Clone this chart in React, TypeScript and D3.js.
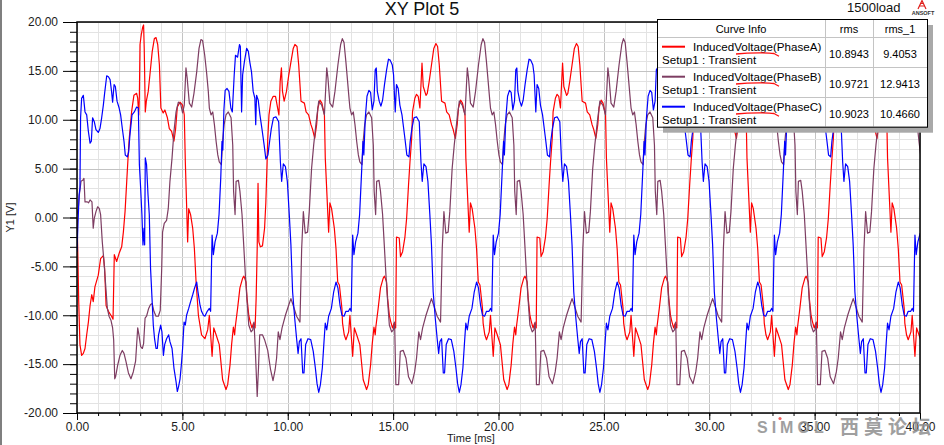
import React, { useEffect, useRef } from "react";
import * as d3 from "d3";

// Induced voltage traces as [time ms, volts] vertices
const phaseA: [number, number][] = [
  [0,0],[0.04,-3.8],[0.08,-8.5],[0.14,-13],[0.22,-14.1],[0.3,-13.9],[0.38,-13.4],[0.46,-12],[0.54,-10.7],[0.62,-9],[0.7,-7.9],[0.77,-8.6],[0.85,-7.1],[1.01,-5.9],[1.12,-4.2],[1.25,-3.9],[1.31,-5.2],[1.38,-9],[1.49,-9.6],[1.64,-10.1],[1.71,-10.4],[1.77,-3.8],[1.88,-4.5],[2.01,-3.6],[2.12,-3],[2.2,-1.5],[2.28,0.6],[2.36,3.7],[2.43,6.4],[2.48,8.1],[2.59,10.8],[2.7,12.5],[2.83,12.7],[2.88,12.2],[2.93,10.5],[2.96,12.5],[2.99,17.7],[3.05,18.7],[3.12,19.5],[3.16,19.7],[3.19,17.3],[3.24,10.8],[3.29,11.9],[3.38,12.9],[3.46,14.6],[3.57,17],[3.67,18.3],[3.75,18.4],[3.83,17.7],[3.91,15.6],[3.98,11.2],[4.09,10.7],[4.17,11],[4.29,10.2],[4.38,9.1],[4.49,8.8],[4.6,7.8],[4.68,9.1],[4.76,11.3],[4.89,11.8],[5.01,11.5],[5.09,10.5],[5.14,5.7],[5.2,1.3],[5.25,-2.5],[5.3,0.9],[5.39,0.3],[5.49,-1.1],[5.57,-3.2],[5.65,-6.6],[5.76,-10],[5.91,-12],[6.07,-12.4],[6.2,-11.5],
  [6.28,-10],[6.41,-14.2],[6.49,-11.3],[6.6,-12],[6.75,-13],[6.91,-16.6],[7.07,-17.6],[7.15,-17.1],[7.26,-15.1],[7.34,-12.9],[7.42,-11.2],[7.48,-12],[7.51,-11.2],[7.62,-9.3],[7.73,-7.2],[7.86,-6.2],[7.92,-6],[8.02,-6.6],[8.07,-8.3],[8.15,-10],[8.21,-10.6],[8.3,-11.3],[8.38,-10.8],[8.45,-11.3],[8.5,-8.3],[8.55,-3.2],[8.59,3.5],[8.63,-2.5],[8.7,-3],[8.8,-2.9],[8.9,-1.1],[8.96,1.5],[9.01,5],[9.05,8],[9.11,10.5],[9.2,11.9],[9.31,12.4],[9.42,12.4],[9.52,11.2],[9.58,10.5],[9.64,13.9],[9.7,15.3],[9.75,12.9],[9.83,11.9],[9.94,12.9],[10.05,14.6],[10.15,15.9],[10.26,17.3],[10.34,17.7],[10.44,17.5],[10.52,15.6],[10.63,11.9],[10.79,11.7],[10.87,10.8],[10.99,10.5],[11.1,9.5],[11.18,9],[11.28,8.1],[11.37,9.5],[11.43,11.2],[11.53,12],[11.62,11.7],[11.74,10.5],[11.78,6.1],[11.89,0.9],[11.94,-1.5],[12,1.5],[12.08,0.9],[12.21,-1.1],[12.29,-3.2],[12.37,-6.6],[12.45,-6.9],[12.57,-9.3],[12.6,-10.8],[12.68,-12],[12.76,-12.5],[12.89,-11.7],
  [12.95,-10],[13.08,-14.2],[13.16,-11.3],[13.27,-12],[13.42,-13],[13.58,-16.6],[13.74,-17.6],[13.82,-17.1],[13.93,-15.1],[14.01,-12.9],[14.09,-11.2],[14.15,-12],[14.18,-11.2],[14.29,-9.3],[14.4,-7.2],[14.53,-6.2],[14.59,-6],[14.69,-6.6],[14.74,-8.3],[14.82,-10],[14.88,-10.6],[14.97,-11.3],[15.05,-10.8],[15.12,-11.3],[15.16,-2],[15.29,-2.1],[15.35,-4],[15.45,-3.5],[15.56,-2],[15.64,-0.1],[15.73,3.3],[15.8,5.7],[15.88,8.1],[15.92,10.8],[16.03,12.2],[16.11,12.6],[16.19,12.4],[16.27,11.2],[16.37,15.8],[16.43,13.4],[16.56,12.5],[16.62,12.7],[16.71,13.9],[16.82,15.6],[16.93,17.3],[17.03,17.8],[17.11,17.5],[17.19,15.6],[17.3,11.9],[17.46,11.7],[17.54,10.8],[17.66,10.5],[17.77,9.5],[17.85,9],[17.95,8.1],[18.04,9.5],[18.1,11.2],[18.2,12],[18.29,11.7],[18.41,10.5],[18.45,6.1],[18.56,0.9],[18.61,-1.5],[18.67,1.5],[18.75,0.9],[18.88,-1.1],[18.96,-3.2],[19.04,-6.6],[19.12,-6.9],[19.24,-9.3],[19.27,-10.8],[19.35,-12],[19.43,-12.5],[19.56,-11.7],
  [19.62,-10],[19.75,-14.2],[19.83,-11.3],[19.94,-12],[20.09,-13],[20.25,-16.6],[20.41,-17.6],[20.49,-17.1],[20.6,-15.1],[20.68,-12.9],[20.76,-11.2],[20.82,-12],[20.85,-11.2],[20.96,-9.3],[21.07,-7.2],[21.2,-6.2],[21.26,-6],[21.36,-6.6],[21.41,-8.3],[21.49,-10],[21.55,-10.6],[21.64,-11.3],[21.72,-10.8],[21.79,-11.3],[21.83,-2],[21.96,-2.1],[22.02,-4],[22.12,-3.5],[22.23,-2],[22.31,-0.1],[22.4,3.3],[22.47,5.7],[22.55,8.1],[22.59,10.8],[22.7,12.2],[22.78,12.6],[22.86,12.4],[22.94,11.2],[23.04,15.8],[23.1,13.4],[23.23,12.5],[23.29,12.7],[23.38,13.9],[23.49,15.6],[23.6,17.3],[23.7,17.8],[23.78,17.5],[23.86,15.6],[23.97,11.9],[24.13,11.7],[24.21,10.8],[24.33,10.5],[24.44,9.5],[24.52,9],[24.62,8.1],[24.71,9.5],[24.77,11.2],[24.87,12],[24.96,11.7],[25.08,10.5],[25.12,6.1],[25.23,0.9],[25.28,-1.5],[25.34,1.5],[25.42,0.9],[25.55,-1.1],[25.63,-3.2],[25.71,-6.6],[25.79,-6.9],[25.91,-9.3],[25.94,-10.8],[26.02,-12],[26.1,-12.5],[26.23,-11.7],
  [26.29,-10],[26.42,-14.2],[26.5,-11.3],[26.61,-12],[26.76,-13],[26.92,-16.6],[27.08,-17.6],[27.16,-17.1],[27.27,-15.1],[27.35,-12.9],[27.43,-11.2],[27.49,-12],[27.52,-11.2],[27.63,-9.3],[27.74,-7.2],[27.87,-6.2],[27.93,-6],[28.03,-6.6],[28.08,-8.3],[28.16,-10],[28.22,-10.6],[28.31,-11.3],[28.39,-10.8],[28.46,-11.3],[28.5,-2],[28.63,-2.1],[28.69,-4],[28.79,-3.5],[28.9,-2],[28.98,-0.1],[29.07,3.3],[29.14,5.7],[29.22,8.1],[29.26,10.8],[29.37,12.2],[29.45,12.6],[29.53,12.4],[29.61,11.2],[29.71,15.8],[29.77,13.4],[29.9,12.5],[29.96,12.7],[30.05,13.9],[30.16,15.6],[30.27,17.3],[30.37,17.8],[30.45,17.5],[30.53,15.6],[30.64,11.9],[30.8,11.7],[30.88,10.8],[31,10.5],[31.11,9.5],[31.19,9],[31.29,8.1],[31.38,9.5],[31.44,11.2],[31.54,12],[31.63,11.7],[31.75,10.5],[31.79,6.1],[31.9,0.9],[31.95,-1.5],[32.01,1.5],[32.09,0.9],[32.22,-1.1],[32.3,-3.2],[32.38,-6.6],[32.46,-6.9],[32.58,-9.3],[32.61,-10.8],[32.69,-12],[32.77,-12.5],[32.9,-11.7],
  [32.96,-10],[33.09,-14.2],[33.17,-11.3],[33.28,-12],[33.43,-13],[33.59,-16.6],[33.75,-17.6],[33.83,-17.1],[33.94,-15.1],[34.02,-12.9],[34.1,-11.2],[34.16,-12],[34.19,-11.2],[34.3,-9.3],[34.41,-7.2],[34.54,-6.2],[34.6,-6],[34.7,-6.6],[34.75,-8.3],[34.83,-10],[34.89,-10.6],[34.98,-11.3],[35.06,-10.8],[35.13,-11.3],[35.17,-2],[35.3,-2.1],[35.36,-4],[35.46,-3.5],[35.57,-2],[35.65,-0.1],[35.74,3.3],[35.81,5.7],[35.89,8.1],[35.93,10.8],[36.04,12.2],[36.12,12.6],[36.2,12.4],[36.28,11.2],[36.38,15.8],[36.44,13.4],[36.57,12.5],[36.63,12.7],[36.72,13.9],[36.83,15.6],[36.94,17.3],[37.04,17.8],[37.12,17.5],[37.2,15.6],[37.31,11.9],[37.47,11.7],[37.55,10.8],[37.67,10.5],[37.78,9.5],[37.86,9],[37.96,8.1],[38.05,9.5],[38.11,11.2],[38.21,12],[38.3,11.7],[38.42,10.5],[38.46,6.1],[38.57,0.9],[38.62,-1.5],[38.68,1.5],[38.76,0.9],[38.89,-1.1],[38.97,-3.2],[39.05,-6.6],[39.13,-6.9],[39.25,-9.3],[39.28,-10.8],[39.36,-12],[39.44,-12.5],[39.57,-11.7],
  [39.63,-10],[39.76,-14.2],[39.84,-11.3],[39.95,-12],[40.1,-13]
];

const phaseB: [number, number][] = [
  [0,0.3],[0.06,0.9],[0.11,2.3],[0.19,3.7],[0.27,3.8],[0.33,4],[0.38,1.6],[0.49,1.6],[0.55,1.5],[0.62,1.8],[0.71,1.6],[0.77,-1.1],[0.82,-0.1],[0.9,0.6],[0.98,1.1],[1.06,0.9],[1.12,0.3],[1.2,-2.5],[1.28,-4.5],[1.36,-6.9],[1.44,-9.3],[1.52,-10.1],[1.61,-10.5],[1.69,-11.3],[1.74,-12.5],[1.79,-16.5],[1.83,-16.3],[1.93,-15.1],[2.04,-14.1],[2.15,-13.6],[2.23,-13.9],[2.32,-14.7],[2.44,-15.9],[2.56,-16.5],[2.67,-15.8],[2.78,-14.7],[2.88,-11.3],[2.94,-12],[3.02,-13.2],[3.1,-13.4],[3.16,-12.9],[3.23,-10.3],[3.3,-10.1],[3.4,-9.3],[3.49,-8.9],[3.57,-8.8],[3.65,-9.6],[3.75,-10.1],[3.86,-10.1],[3.95,-9.5],[4.02,-5.2],[4.06,-1.5],[4.14,-0.6],[4.25,-0.3],[4.33,0.9],[4.41,3.7],[4.51,6.1],[4.6,8.8],[4.7,10.8],[4.81,11.8],[4.92,11.6],[5.01,10.7],[5.09,11.5],[5.17,15.3],[5.23,14.2],[5.33,11.7],[5.44,11.3],[5.55,12.7],[5.68,14.9],[5.79,17.3],[5.88,18.2],[5.96,18.1],[6.06,16.6],[6.15,14.8],[6.23,12.9],
  [6.28,11.2],[6.36,10.5],[6.44,10.8],[6.52,9.5],[6.6,7.8],[6.68,6.4],[6.75,5.7],[6.85,5.4],[6.91,7.8],[6.98,9.5],[7.07,10.5],[7.18,10.8],[7.31,10.2],[7.39,7.4],[7.43,2.7],[7.5,0.3],[7.55,3.7],[7.66,3.8],[7.73,2.7],[7.83,0.3],[7.91,-2.8],[7.99,-5.9],[8.07,-8.6],[8.15,-11],[8.26,-11.7],[8.34,-11.5],[8.4,-10.7],[8.47,-14],[8.55,-18.3],[8.61,-15.5],[8.67,-12],[8.8,-12],[8.9,-12.5],[9.05,-13.6],[9.18,-15.5],[9.3,-16.7],[9.4,-15.6],[9.47,-14.4],[9.55,-11.7],[9.63,-12.5],[9.73,-11.3],[9.89,-10],[10.04,-9],[10.15,-8.3],[10.26,-9],[10.42,-10.1],[10.58,-10.7],[10.66,-3.2],[10.74,0.6],[10.83,-1.6],[10.94,-1.5],[11.02,0.6],[11.13,5],[11.23,7.4],[11.34,9.6],[11.47,11.9],[11.61,11.5],[11.74,10.5],[11.85,15.3],[11.91,14.2],[12,11.7],[12.13,11.3],[12.24,12.9],[12.38,15.6],[12.51,17.7],[12.59,18.3],[12.67,17.9],[12.76,15.9],[12.84,13.9],[12.92,11.9],
  [12.95,11.2],[13.03,10.5],[13.11,10.8],[13.19,9.5],[13.27,7.8],[13.35,6.4],[13.42,5.7],[13.52,5.4],[13.58,7.8],[13.65,9.5],[13.74,10.5],[13.85,10.8],[13.98,10.2],[14.06,7.4],[14.1,2.7],[14.17,0.3],[14.22,3.7],[14.33,3.8],[14.4,2.7],[14.5,0.3],[14.58,-2.8],[14.66,-5.9],[14.74,-8.6],[14.82,-11],[14.93,-11.7],[15.01,-11.5],[15.07,-10.7],[15.13,-17.1],[15.26,-17.1],[15.34,-13.7],[15.48,-13.6],[15.61,-14.4],[15.73,-16.3],[15.89,-17],[16.02,-15.8],[16.11,-14.4],[16.22,-11.7],[16.3,-12.5],[16.4,-11.3],[16.56,-10],[16.71,-9],[16.82,-8.3],[16.93,-9],[17.09,-10.1],[17.25,-10.7],[17.33,-3.2],[17.41,0.6],[17.5,-1.6],[17.61,-1.5],[17.69,0.6],[17.8,5],[17.9,7.4],[18.01,9.6],[18.14,11.9],[18.28,11.5],[18.41,10.5],[18.52,15.3],[18.58,14.2],[18.67,11.7],[18.8,11.3],[18.91,12.9],[19.05,15.6],[19.18,17.7],[19.26,18.3],[19.34,17.9],[19.43,15.9],[19.51,13.9],[19.59,11.9],
  [19.62,11.2],[19.7,10.5],[19.78,10.8],[19.86,9.5],[19.94,7.8],[20.02,6.4],[20.09,5.7],[20.19,5.4],[20.25,7.8],[20.32,9.5],[20.41,10.5],[20.52,10.8],[20.65,10.2],[20.73,7.4],[20.77,2.7],[20.84,0.3],[20.89,3.7],[21,3.8],[21.07,2.7],[21.17,0.3],[21.25,-2.8],[21.33,-5.9],[21.41,-8.6],[21.49,-11],[21.6,-11.7],[21.68,-11.5],[21.74,-10.7],[21.8,-17.1],[21.93,-17.1],[22.01,-13.7],[22.15,-13.6],[22.28,-14.4],[22.4,-16.3],[22.56,-17],[22.69,-15.8],[22.78,-14.4],[22.89,-11.7],[22.97,-12.5],[23.07,-11.3],[23.23,-10],[23.38,-9],[23.49,-8.3],[23.6,-9],[23.76,-10.1],[23.92,-10.7],[24,-3.2],[24.08,0.6],[24.17,-1.6],[24.28,-1.5],[24.36,0.6],[24.47,5],[24.57,7.4],[24.68,9.6],[24.81,11.9],[24.95,11.5],[25.08,10.5],[25.19,15.3],[25.25,14.2],[25.34,11.7],[25.47,11.3],[25.58,12.9],[25.72,15.6],[25.85,17.7],[25.93,18.3],[26.01,17.9],[26.1,15.9],[26.18,13.9],[26.26,11.9],
  [26.29,11.2],[26.37,10.5],[26.45,10.8],[26.53,9.5],[26.61,7.8],[26.69,6.4],[26.76,5.7],[26.86,5.4],[26.92,7.8],[26.99,9.5],[27.08,10.5],[27.19,10.8],[27.32,10.2],[27.4,7.4],[27.44,2.7],[27.51,0.3],[27.56,3.7],[27.67,3.8],[27.74,2.7],[27.84,0.3],[27.92,-2.8],[28,-5.9],[28.08,-8.6],[28.16,-11],[28.27,-11.7],[28.35,-11.5],[28.41,-10.7],[28.47,-17.1],[28.6,-17.1],[28.68,-13.7],[28.82,-13.6],[28.95,-14.4],[29.07,-16.3],[29.23,-17],[29.36,-15.8],[29.45,-14.4],[29.56,-11.7],[29.64,-12.5],[29.74,-11.3],[29.9,-10],[30.05,-9],[30.16,-8.3],[30.27,-9],[30.43,-10.1],[30.59,-10.7],[30.67,-3.2],[30.75,0.6],[30.84,-1.6],[30.95,-1.5],[31.03,0.6],[31.14,5],[31.24,7.4],[31.35,9.6],[31.48,11.9],[31.62,11.5],[31.75,10.5],[31.86,15.3],[31.92,14.2],[32.01,11.7],[32.14,11.3],[32.25,12.9],[32.39,15.6],[32.52,17.7],[32.6,18.3],[32.68,17.9],[32.77,15.9],[32.85,13.9],[32.93,11.9],
  [32.96,11.2],[33.04,10.5],[33.12,10.8],[33.2,9.5],[33.28,7.8],[33.36,6.4],[33.43,5.7],[33.53,5.4],[33.59,7.8],[33.66,9.5],[33.75,10.5],[33.86,10.8],[33.99,10.2],[34.07,7.4],[34.11,2.7],[34.18,0.3],[34.23,3.7],[34.34,3.8],[34.41,2.7],[34.51,0.3],[34.59,-2.8],[34.67,-5.9],[34.75,-8.6],[34.83,-11],[34.94,-11.7],[35.02,-11.5],[35.08,-10.7],[35.14,-17.1],[35.27,-17.1],[35.35,-13.7],[35.49,-13.6],[35.62,-14.4],[35.74,-16.3],[35.9,-17],[36.03,-15.8],[36.12,-14.4],[36.23,-11.7],[36.31,-12.5],[36.41,-11.3],[36.57,-10],[36.72,-9],[36.83,-8.3],[36.94,-9],[37.1,-10.1],[37.26,-10.7],[37.34,-3.2],[37.42,0.6],[37.51,-1.6],[37.62,-1.5],[37.7,0.6],[37.81,5],[37.91,7.4],[38.02,9.6],[38.15,11.9],[38.29,11.5],[38.42,10.5],[38.53,15.3],[38.59,14.2],[38.68,11.7],[38.81,11.3],[38.92,12.9],[39.06,15.6],[39.19,17.7],[39.27,18.3],[39.35,17.9],[39.44,15.9],[39.52,13.9],[39.6,11.9],
  [39.63,11.2],[39.71,10.5],[39.79,10.8],[39.87,9.5],[39.95,7.8],[40.03,6.4],[40.1,5.7]
];

const phaseC: [number, number][] = [
  [0,-3.5],[0.05,-0.4],[0.1,2.3],[0.14,3],[0.17,10.2],[0.22,12.2],[0.3,12.5],[0.38,10.8],[0.46,10.5],[0.54,8.8],[0.62,7.6],[0.68,7.8],[0.74,10.2],[0.82,9.8],[0.9,9],[1.01,8.7],[1.09,9.1],[1.17,10.2],[1.25,11.5],[1.31,12.7],[1.41,14.5],[1.49,14.4],[1.57,14.1],[1.64,12.9],[1.69,11.8],[1.76,13.6],[1.82,13.4],[1.9,11.9],[2,11.2],[2.07,10.5],[2.15,9.1],[2.23,7.8],[2.29,6.4],[2.39,6.2],[2.45,6.7],[2.51,8.4],[2.61,10.5],[2.72,10.8],[2.83,11.3],[2.91,11.2],[2.96,5.4],[3.02,3],[3.08,0.3],[3.13,-2.8],[3.18,-1.1],[3.21,-2.8],[3.24,6.1],[3.3,5.4],[3.37,2.3],[3.43,0.3],[3.49,-5.2],[3.56,-8.3],[3.62,-11],[3.68,-12.4],[3.75,-13.4],[3.81,-13.4],[3.87,-12],[3.97,-11],[4.03,-11.7],[4.1,-14.1],[4.16,-13],[4.25,-12.4],[4.35,-12],[4.41,-12.7],[4.51,-13.4],[4.6,-15.4],[4.7,-16.8],[4.76,-17.8],[4.82,-17.3],[4.89,-16.5],[4.95,-15.1],[5.01,-13.4],[5.08,-10.7],[5.14,-11],[5.2,-10],[5.3,-9.3],[5.39,-8.6],[5.49,-7.9],[5.58,-7.2],[5.68,-6.6],[5.74,-7.6],[5.84,-9],[5.91,-9.6],[6,-10],[6.07,-10.1],[6.18,-9.6],
  [6.28,-9.3],[6.34,-9.6],[6.41,-1.8],[6.47,-3.8],[6.55,-2.5],[6.66,-1.6],[6.74,0.3],[6.82,4],[6.88,7.8],[6.92,6.9],[6.97,11],[7.03,13],[7.12,13.2],[7.21,12.9],[7.3,11.2],[7.37,10.8],[7.46,14.6],[7.52,16.6],[7.62,16.4],[7.71,17.7],[7.75,17.5],[7.81,10.8],[7.86,14.6],[7.94,15.9],[8.05,17.3],[8.13,17],[8.2,15.9],[8.28,14.9],[8.36,12.9],[8.44,12.2],[8.48,9.5],[8.52,12.5],[8.6,12],[8.68,10.5],[8.78,9],[8.88,7.4],[8.96,6],[9.06,6.4],[9.14,7.8],[9.22,9.1],[9.32,10.2],[9.44,10.3],[9.57,9.8],[9.65,5.7],[9.71,3.7],[9.79,5.5],[9.89,5.2],[9.98,3.7],[10.07,0.4],[10.15,-2.8],[10.23,-7.6],[10.33,-10.3],[10.42,-12.4],[10.49,-13.9],[10.55,-12.7],[10.63,-12.4],[10.71,-15.9],[10.77,-15.9],[10.85,-13],[10.96,-12.4],[11.09,-12.5],[11.21,-13.7],[11.31,-15.4],[11.39,-17],[11.47,-17.9],[11.55,-17.1],[11.64,-15.4],[11.72,-12.7],[11.78,-10.8],[11.85,-11.5],[11.94,-10.1],[12.07,-9.3],[12.18,-7.6],[12.29,-6.6],[12.38,-7.2],[12.48,-9],[12.57,-10],[12.67,-10.1],[12.76,-9.6],[12.88,-9.6],
  [12.95,-9.3],[13.01,-9.6],[13.08,-1.8],[13.14,-3.8],[13.22,-2.5],[13.33,-1.6],[13.41,0.3],[13.49,4],[13.57,7.8],[13.61,6.4],[13.68,10.2],[13.76,12.4],[13.85,13],[13.93,12.8],[14.01,11],[14.09,11.9],[14.15,15.1],[14.2,15.3],[14.25,12.9],[14.34,11.9],[14.42,11.4],[14.5,12],[14.59,13.6],[14.69,15.1],[14.78,16.2],[14.86,16.1],[14.96,15.6],[15.02,14.6],[15.1,10.8],[15.16,13.6],[15.24,13.2],[15.32,11.5],[15.42,10.5],[15.5,9.1],[15.57,7.9],[15.65,6.4],[15.75,6.2],[15.81,7.8],[15.89,9.1],[15.99,10.2],[16.11,10.3],[16.24,9.8],[16.32,5.7],[16.38,3.7],[16.46,5.5],[16.56,5.2],[16.65,3.7],[16.74,0.4],[16.82,-2.8],[16.9,-7.6],[17,-10.3],[17.09,-12.4],[17.16,-13.9],[17.22,-12.7],[17.3,-12.4],[17.38,-15.9],[17.44,-15.9],[17.52,-13],[17.63,-12.4],[17.76,-12.5],[17.88,-13.7],[17.98,-15.4],[18.06,-17],[18.14,-17.9],[18.22,-17.1],[18.31,-15.4],[18.39,-12.7],[18.45,-10.8],[18.52,-11.5],[18.61,-10.1],[18.74,-9.3],[18.85,-7.6],[18.96,-6.6],[19.05,-7.2],[19.15,-9],[19.24,-10],[19.34,-10.1],[19.43,-9.6],[19.55,-9.6],
  [19.62,-9.3],[19.68,-9.6],[19.75,-1.8],[19.81,-3.8],[19.89,-2.5],[20,-1.6],[20.08,0.3],[20.16,4],[20.24,7.8],[20.28,6.4],[20.35,10.2],[20.43,12.4],[20.52,13],[20.6,12.8],[20.68,11],[20.76,11.9],[20.82,15.1],[20.87,15.3],[20.92,12.9],[21.01,11.9],[21.09,11.4],[21.17,12],[21.26,13.6],[21.36,15.1],[21.45,16.2],[21.53,16.1],[21.63,15.6],[21.69,14.6],[21.77,10.8],[21.83,13.6],[21.91,13.2],[21.99,11.5],[22.09,10.5],[22.17,9.1],[22.24,7.9],[22.32,6.4],[22.42,6.2],[22.48,7.8],[22.56,9.1],[22.66,10.2],[22.78,10.3],[22.91,9.8],[22.99,5.7],[23.05,3.7],[23.13,5.5],[23.23,5.2],[23.32,3.7],[23.41,0.4],[23.49,-2.8],[23.57,-7.6],[23.67,-10.3],[23.76,-12.4],[23.83,-13.9],[23.89,-12.7],[23.97,-12.4],[24.05,-15.9],[24.11,-15.9],[24.19,-13],[24.3,-12.4],[24.43,-12.5],[24.55,-13.7],[24.65,-15.4],[24.73,-17],[24.81,-17.9],[24.89,-17.1],[24.98,-15.4],[25.06,-12.7],[25.12,-10.8],[25.19,-11.5],[25.28,-10.1],[25.41,-9.3],[25.52,-7.6],[25.63,-6.6],[25.72,-7.2],[25.82,-9],[25.91,-10],[26.01,-10.1],[26.1,-9.6],[26.22,-9.6],
  [26.29,-9.3],[26.35,-9.6],[26.42,-1.8],[26.48,-3.8],[26.56,-2.5],[26.67,-1.6],[26.75,0.3],[26.83,4],[26.91,7.8],[26.95,6.4],[27.02,10.2],[27.1,12.4],[27.19,13],[27.27,12.8],[27.35,11],[27.43,11.9],[27.49,15.1],[27.54,15.3],[27.59,12.9],[27.68,11.9],[27.76,11.4],[27.84,12],[27.93,13.6],[28.03,15.1],[28.12,16.2],[28.2,16.1],[28.3,15.6],[28.36,14.6],[28.44,10.8],[28.5,13.6],[28.58,13.2],[28.66,11.5],[28.76,10.5],[28.84,9.1],[28.91,7.9],[28.99,6.4],[29.09,6.2],[29.15,7.8],[29.23,9.1],[29.33,10.2],[29.45,10.3],[29.58,9.8],[29.66,5.7],[29.72,3.7],[29.8,5.5],[29.9,5.2],[29.99,3.7],[30.08,0.4],[30.16,-2.8],[30.24,-7.6],[30.34,-10.3],[30.43,-12.4],[30.5,-13.9],[30.56,-12.7],[30.64,-12.4],[30.72,-15.9],[30.78,-15.9],[30.86,-13],[30.97,-12.4],[31.1,-12.5],[31.22,-13.7],[31.32,-15.4],[31.4,-17],[31.48,-17.9],[31.56,-17.1],[31.65,-15.4],[31.73,-12.7],[31.79,-10.8],[31.86,-11.5],[31.95,-10.1],[32.08,-9.3],[32.19,-7.6],[32.3,-6.6],[32.39,-7.2],[32.49,-9],[32.58,-10],[32.68,-10.1],[32.77,-9.6],[32.89,-9.6],
  [32.96,-9.3],[33.02,-9.6],[33.09,-1.8],[33.15,-3.8],[33.23,-2.5],[33.34,-1.6],[33.42,0.3],[33.5,4],[33.58,7.8],[33.62,6.4],[33.69,10.2],[33.77,12.4],[33.86,13],[33.94,12.8],[34.02,11],[34.1,11.9],[34.16,15.1],[34.21,15.3],[34.26,12.9],[34.35,11.9],[34.43,11.4],[34.51,12],[34.6,13.6],[34.7,15.1],[34.79,16.2],[34.87,16.1],[34.97,15.6],[35.03,14.6],[35.11,10.8],[35.17,13.6],[35.25,13.2],[35.33,11.5],[35.43,10.5],[35.51,9.1],[35.58,7.9],[35.66,6.4],[35.76,6.2],[35.82,7.8],[35.9,9.1],[36,10.2],[36.12,10.3],[36.25,9.8],[36.33,5.7],[36.39,3.7],[36.47,5.5],[36.57,5.2],[36.66,3.7],[36.75,0.4],[36.83,-2.8],[36.91,-7.6],[37.01,-10.3],[37.1,-12.4],[37.17,-13.9],[37.23,-12.7],[37.31,-12.4],[37.39,-15.9],[37.45,-15.9],[37.53,-13],[37.64,-12.4],[37.77,-12.5],[37.89,-13.7],[37.99,-15.4],[38.07,-17],[38.15,-17.9],[38.23,-17.1],[38.32,-15.4],[38.4,-12.7],[38.46,-10.8],[38.53,-11.5],[38.62,-10.1],[38.75,-9.3],[38.86,-7.6],[38.97,-6.6],[39.06,-7.2],[39.16,-9],[39.25,-10],[39.35,-10.1],[39.44,-9.6],[39.56,-9.6],
  [39.63,-9.3],[39.69,-9.6],[39.76,-1.8],[39.82,-3.8],[39.9,-2.5],[40.01,-1.6]
];

const curveNames = ["InducedVoltage(PhaseA)", "InducedVoltage(PhaseB)", "InducedVoltage(PhaseC)"];
const curveColors = ["#ff0000", "#7d3d62", "#0000ff"];
const rmsValues = ["10.8943", "10.9721", "10.9023"];
const rms1Values = ["9.4053", "12.9413", "10.4660"];
const xTicks = [0, 5, 10, 15, 20, 25, 30, 35, 40];
const yTicks = [-20, -15, -10, -5, 0, 5, 10, 15, 20];

const FONT = "'Liberation Sans', Arial, sans-serif";

function XYPlot() {
  const svgRef = useRef<SVGSVGElement | null>(null);

  useEffect(() => {
    const svg = d3.select(svgRef.current);
    svg.selectAll("*").remove();

    const x = d3.scaleLinear().domain([0, 40]).range([77, 920]);
    const y = d3.scaleLinear().domain([-20, 20]).range([413, 22]);
    const [x0, x1] = x.range();
    const [y0, y1] = y.range();

    svg.append("rect").attr("width", 944).attr("height", 445).attr("fill", "#fff");
    svg.append("rect").attr("x", 0).attr("y", 0).attr("width", 2).attr("height", 445).attr("fill", "#7f7f7f");

    // grid, minor every unit, major every 5
    const grid = svg.append("g").attr("stroke-width", 1);
    grid.selectAll(".gx").data(x.ticks(40)).join("line")
      .attr("x1", d => Math.round(x(d)) + 0.5).attr("x2", d => Math.round(x(d)) + 0.5)
      .attr("y1", y1).attr("y2", y0)
      .attr("stroke", d => (d % 5 === 0 ? "#c3c3c3" : "#e3e3e3"));
    grid.selectAll(".gy").data(y.ticks(40)).join("line")
      .attr("y1", d => Math.round(y(d)) + 0.5).attr("y2", d => Math.round(y(d)) + 0.5)
      .attr("x1", x0).attr("x2", x1)
      .attr("stroke", d => (d % 5 === 0 ? "#c3c3c3" : "#e3e3e3"));

    // curves
    svg.append("clipPath").attr("id", "plot-clip")
      .append("rect").attr("x", x0).attr("y", y1).attr("width", x1 - x0).attr("height", y0 - y1);
    const line = d3.line<[number, number]>().x(d => x(d[0])).y(d => y(d[1]));
    svg.append("g").attr("clip-path", "url(#plot-clip)")
      .selectAll("path").data([phaseA, phaseB, phaseC]).join("path")
      .attr("d", d => line(d))
      .attr("fill", "none")
      .attr("stroke", (_, i) => curveColors[i])
      .attr("stroke-width", 1.2)
      .attr("stroke-linejoin", "round");

    // axes
    const styleAxis = (g: any) => {
      g.select(".domain").remove();
      g.attr("font-family", FONT).attr("font-size", 12);
      g.selectAll("text").attr("fill", "#1c1c1c");
    };
    svg.append("g").attr("transform", `translate(${x0},0)`)
      .call(d3.axisLeft(y).tickValues(y.ticks(40)).tickSize(7).tickFormat(() => ""))
      .call(styleAxis);
    svg.append("g").attr("transform", `translate(${x0},0)`)
      .call(d3.axisLeft(y).tickValues(yTicks).tickSize(14).tickPadding(5).tickFormat(d => (+d).toFixed(2)))
      .call(styleAxis);
    svg.append("g").attr("transform", `translate(0,${y0})`)
      .call(d3.axisBottom(x).tickValues(x.ticks(40)).tickSize(3).tickFormat(() => ""))
      .call(styleAxis);
    svg.append("g").attr("transform", `translate(0,${y0})`)
      .call(d3.axisBottom(x).tickValues(xTicks).tickSize(7).tickPadding(2).tickFormat(d => (+d).toFixed(2)))
      .call(styleAxis);

    svg.append("rect").attr("x", x0).attr("y", y1).attr("width", x1 - x0).attr("height", y0 - y1)
      .attr("fill", "none").attr("stroke", "#000").attr("stroke-width", 1.5);

    // titles
    svg.append("text").attr("x", 422).attr("y", 15).attr("text-anchor", "middle")
      .attr("font-family", FONT).attr("font-size", 18).attr("fill", "#111").text("XY Plot 5");
    svg.append("text").attr("x", 847).attr("y", 12)
      .attr("font-family", FONT).attr("font-size", 13).attr("fill", "#111").text("1500load");
    svg.append("text").attr("x", 471).attr("y", 442).attr("text-anchor", "middle")
      .attr("font-family", FONT).attr("font-size", 11).attr("fill", "#1c1c1c").text("Time [ms]");
    svg.append("text").attr("transform", `translate(14,${(y0 + y1) / 2}) rotate(-90)`).attr("text-anchor", "middle")
      .attr("font-family", FONT).attr("font-size", 11).attr("fill", "#1c1c1c").text("Y1 [V]");

    // ansoft badge
    const logo = svg.append("g").attr("stroke", "#e0201c").attr("stroke-width", 1.2).attr("fill", "none");
    logo.append("path").attr("d", "M918,9 L922,0.5 L926,9");
    logo.append("path").attr("d", "M919.5,6 L924.5,6 M920.8,3.3 L923.2,3.3");
    svg.append("text").attr("x", 923).attr("y", 15).attr("text-anchor", "middle")
      .attr("font-family", FONT).attr("font-size", 5.5).attr("font-weight", "bold").attr("fill", "#333").text("ANSOFT");

    // legend table
    const lx = 657, ly = 19, lw = 270, headH = 17.7, rowH = 30;
    const lh = headH + rowH * 3;
    const colA = 825, colB = 873;
    const lg = svg.append("g").attr("font-family", FONT).attr("font-size", 11).attr("fill", "#000");
    lg.append("rect").attr("x", lx + 6).attr("y", ly + 6).attr("width", lw).attr("height", lh).attr("fill", "#a9a9a9");
    lg.append("rect").attr("x", lx).attr("y", ly).attr("width", lw).attr("height", lh).attr("fill", "#fff");
    [colA, colB].forEach(cx => {
      lg.append("line").attr("x1", cx + 0.5).attr("x2", cx + 0.5).attr("y1", ly).attr("y2", ly + lh).attr("stroke", "#c4c4c4");
    });
    [0, 1, 2].forEach(i => {
      const ry = Math.round(ly + headH + rowH * i) + 0.5;
      lg.append("line").attr("x1", lx).attr("x2", lx + lw).attr("y1", ry).attr("y2", ry).attr("stroke", "#c4c4c4");
    });
    lg.append("rect").attr("x", lx + 0.5).attr("y", ly + 0.5).attr("width", lw).attr("height", lh)
      .attr("fill", "none").attr("stroke", "#000").attr("stroke-width", 1);
    lg.append("text").attr("x", (lx + colA) / 2).attr("y", ly + 14).attr("text-anchor", "middle").text("Curve Info");
    lg.append("text").attr("x", (colA + colB) / 2).attr("y", ly + 14).attr("text-anchor", "middle").text("rms");
    lg.append("text").attr("x", (colB + lx + lw) / 2).attr("y", ly + 14).attr("text-anchor", "middle").text("rms_1");

    const rows = lg.selectAll(".row").data(curveNames).join("g")
      .attr("transform", (_, i) => `translate(0,${ly + headH + rowH * i})`);
    rows.append("line").attr("x1", lx + 5).attr("x2", lx + 28).attr("y1", 10).attr("y2", 10)
      .attr("stroke", (_, i) => curveColors[i]).attr("stroke-width", 2);
    rows.append("text").attr("x", lx + 36).attr("y", 14.5).attr("font-size", 11.6).text(d => d);
    rows.append("text").attr("x", lx + 5).attr("y", 27.3).attr("font-size", 11.6).text("Setup1 : Transient");
    rows.append("text").attr("x", (colA + colB) / 2).attr("y", 21.5).attr("text-anchor", "middle").text((_, i) => rmsValues[i]);
    rows.append("text").attr("x", (colB + lx + lw) / 2).attr("y", 21.5).attr("text-anchor", "middle").text((_, i) => rms1Values[i]);
    // hand-drawn red underline under "Voltage"
    rows.append("path")
      .attr("d", `M${lx + 79},17.3 C${lx + 95},15.6 ${lx + 112},16 ${lx + 117},16.8 L${lx + 122},19.6`)
      .attr("fill", "none").attr("stroke", "#ff1010").attr("stroke-width", 1.3);

    // forum watermark
    const wm = svg.append("g").attr("fill", "#8f8f8f").attr("opacity", 0.85);
    wm.append("text").attr("x", 757).attr("y", 433).attr("font-family", FONT).attr("font-size", 16)
      .attr("font-weight", "bold").attr("letter-spacing", 4).text("SIMOL");
    wm.append("text").attr("x", 840).attr("y", 434).attr("font-family", "'Noto Sans CJK SC', sans-serif")
      .attr("font-size", 19).attr("font-weight", "bold").attr("letter-spacing", 5).text("西莫论坛");
    svg.append("circle").attr("cx", 780).attr("cy", 418.5).attr("r", 1.6).attr("fill", "#f06060");
  }, []);

  return (
    <svg
      ref={svgRef}
      width={944}
      height={445}
      style={{ position: "absolute", left: 0, top: 0, display: "block" }}
    />
  );
}

export default function App() {
  return <XYPlot />;
}
